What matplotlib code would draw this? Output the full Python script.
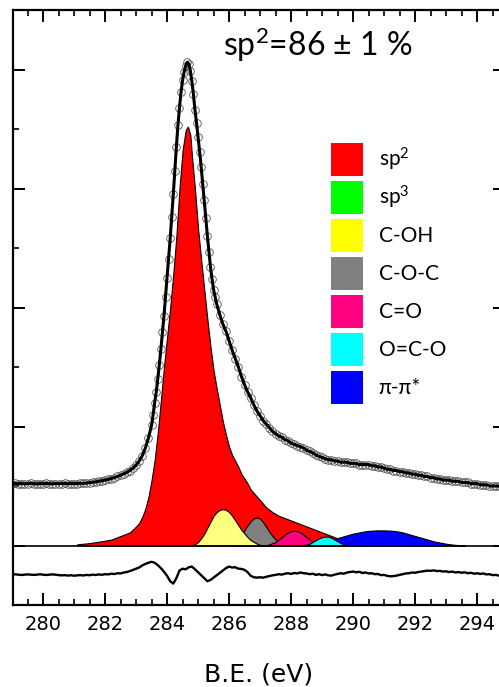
import numpy as np
import matplotlib
matplotlib.use('Agg')
import matplotlib.pyplot as plt
from matplotlib.patches import Patch
from matplotlib.ticker import MultipleLocator

# measured spectrum (offset above the components), three sampling segments
counts_left = [0.520, 0.522, 0.519, 0.521, 0.518, 0.520, 0.523, 0.520, 0.517, 0.521,
               0.519, 0.522, 0.520, 0.518, 0.521, 0.519, 0.520, 0.522, 0.519, 0.521,
               0.520, 0.521, 0.523, 0.522, 0.525, 0.528, 0.531, 0.535, 0.540, 0.545,
               0.550, 0.556, 0.563, 0.571, 0.580, 0.590, 0.602, 0.615, 0.630, 0.650,
               0.675, 0.710, 0.755, 0.820, 0.905, 1.010]          # 279.0 .. 283.5, step 0.1
counts_peak = [1.10, 1.20, 1.29, 1.40, 1.52, 1.65, 1.79, 1.93, 2.09,
               2.25, 2.41, 2.58, 2.76, 2.95, 3.15, 3.35, 3.53, 3.68, 3.81,
               3.91, 3.98, 4.03, 4.06, 4.05, 3.99, 3.90, 3.79, 3.66, 3.55,
               3.43, 3.31, 3.18, 3.04, 2.90, 2.75, 2.60, 2.47, 2.34, 2.24,
               2.15, 2.09, 2.03]                                   # 283.55 .. 285.6, step 0.05
counts_right = [1.94, 1.86, 1.80, 1.72, 1.64, 1.57, 1.50, 1.42, 1.35, 1.29,
                1.24, 1.18, 1.13, 1.09, 1.05, 1.02, 0.99, 0.96, 0.94, 0.92,
                0.91, 0.89, 0.88, 0.86, 0.85, 0.84, 0.83, 0.82, 0.80, 0.79,
                0.78, 0.76, 0.75, 0.74, 0.73, 0.72, 0.72, 0.71, 0.71, 0.70,
                0.70, 0.70, 0.69, 0.69, 0.69, 0.68, 0.68, 0.68, 0.68, 0.67,
                0.67, 0.66, 0.66, 0.65, 0.64, 0.64, 0.63, 0.63, 0.62, 0.62,
                0.61, 0.61, 0.60, 0.60, 0.59, 0.59, 0.58, 0.58, 0.57, 0.57,
                0.56, 0.56, 0.55, 0.55, 0.55, 0.54, 0.54, 0.54, 0.53, 0.53,
                0.53, 0.52, 0.52, 0.52, 0.51, 0.51, 0.51, 0.50, 0.50, 0.50,
                0.50, 0.49, 0.49]                                  # 285.7 .. 294.9, step 0.1

# fitted components
sp2_be = [281.1, 281.5, 282.0, 282.2, 282.5, 282.8, 283.0, 283.1, 283.2, 283.3, 283.4, 283.5,
          283.6, 283.7, 283.8, 283.9, 284.0, 284.1, 284.2, 284.3, 284.4, 284.5, 284.6, 284.67,
          284.75, 284.8, 284.9, 285.0, 285.1, 285.2, 285.3, 285.4, 285.5, 285.6, 285.7, 285.8,
          285.9, 286.0, 286.1, 286.2, 286.3, 286.4, 286.5, 286.6, 286.7, 286.8, 286.9, 287.0,
          287.2, 287.4, 287.6, 287.8, 288.0, 288.2, 288.4, 288.6, 288.8, 289.0, 289.2, 289.4,
          289.6, 289.8, 290.0, 290.2, 290.4]
sp2_int = [0.01, 0.02, 0.04, 0.05, 0.08, 0.11, 0.16, 0.19, 0.24, 0.31, 0.41, 0.55,
           0.72, 0.95, 1.22, 1.50, 1.75, 2.00, 2.28, 2.60, 3.00, 3.32, 3.49, 3.52,
           3.45, 3.28, 2.99, 2.66, 2.40, 2.15, 1.90, 1.67, 1.47, 1.32, 1.18, 1.04,
           0.93, 0.83, 0.76, 0.71, 0.66, 0.60, 0.56, 0.52, 0.47, 0.44, 0.41, 0.38,
           0.32, 0.28, 0.25, 0.23, 0.21, 0.19, 0.17, 0.15, 0.13, 0.11, 0.09, 0.07,
           0.05, 0.03, 0.02, 0.01, 0.0]

coh_be = [284.8, 284.9, 285.0, 285.1, 285.2, 285.3, 285.4, 285.5, 285.6, 285.7, 285.8, 285.9,
          286.0, 286.1, 286.2, 286.3, 286.4, 286.5, 286.6, 286.7, 286.8, 286.9, 287.0, 287.1]
coh_int = [0.0, 0.01, 0.03, 0.06, 0.10, 0.15, 0.20, 0.25, 0.28, 0.30, 0.305, 0.30,
           0.28, 0.25, 0.21, 0.17, 0.13, 0.10, 0.07, 0.045, 0.03, 0.015, 0.005, 0.0]

coc_be = [286.0, 286.1, 286.2, 286.3, 286.4, 286.5, 286.6, 286.7, 286.8, 286.9, 287.0, 287.1,
          287.2, 287.3, 287.4, 287.5, 287.6, 287.7, 287.8, 287.9]
coc_int = [0.0, 0.015, 0.035, 0.06, 0.09, 0.13, 0.17, 0.205, 0.228, 0.235, 0.225, 0.195,
           0.155, 0.115, 0.08, 0.05, 0.03, 0.015, 0.005, 0.0]

co_be = [287.2, 287.3, 287.5, 287.6, 287.7, 287.8, 287.9, 288.0, 288.1, 288.2, 288.3,
         288.4, 288.5, 288.6, 288.7, 288.8, 288.9, 289.0]
co_int = [0.0, 0.01, 0.03, 0.05, 0.07, 0.09, 0.11, 0.12, 0.125, 0.12, 0.11,
          0.09, 0.07, 0.05, 0.03, 0.02, 0.01, 0.0]

oco_be = [288.4, 288.5, 288.6, 288.7, 288.8, 288.9, 289.0, 289.1, 289.2, 289.3, 289.4,
          289.5, 289.6, 289.7, 289.8]
oco_int = [0.0, 0.005, 0.015, 0.03, 0.045, 0.06, 0.07, 0.075, 0.075, 0.065, 0.05,
           0.035, 0.02, 0.01, 0.0]

pi_be = [288.2, 288.4, 288.6, 288.8, 289.0, 289.2, 289.4, 289.6, 289.8, 290.0, 290.2, 290.4,
         290.6, 290.8, 291.0, 291.2, 291.4, 291.6, 291.8, 292.0, 292.2, 292.4, 292.6, 292.8,
         293.0, 293.2, 293.4, 293.6]
pi_int = [0.0, 0.005, 0.01, 0.02, 0.03, 0.04, 0.055, 0.07, 0.085, 0.10, 0.11, 0.12,
          0.125, 0.127, 0.127, 0.125, 0.12, 0.11, 0.095, 0.08, 0.065, 0.05, 0.035, 0.025,
          0.015, 0.008, 0.003, 0.0]

# residual, 279.0 .. 294.9 step 0.1
residual = [0.0, 0.003, 0.0, -0.003, 0.0, 0.002, 0.0, -0.002, 0.0, 0.003,
            0.0, -0.003, 0.0, 0.002, 0.0, -0.004, -0.006, -0.004, -0.008, -0.005,
            -0.009, -0.006, -0.004, -0.007, -0.002, -0.005, 0.0, -0.003, 0.002, -0.001,
            0.004, 0.002, 0.008, 0.005, 0.012, 0.010, 0.018, 0.022, 0.030, 0.040,
            0.050, 0.060, 0.078, 0.090, 0.100, 0.108, 0.100, 0.080, 0.055, 0.025,
            -0.010, -0.055, -0.075, -0.030, 0.035, 0.050, 0.045, 0.062, 0.068, 0.045,
            0.020, -0.005, -0.030, -0.055, -0.045, -0.025, -0.005, 0.015, 0.035, 0.055,
            0.068, 0.060, 0.062, 0.050, 0.048, 0.040, 0.020, -0.010, -0.022, -0.025,
            -0.022, -0.025, -0.018, -0.012, -0.006, -0.002, 0.004, 0.000, 0.008, 0.012,
            0.006, 0.014, 0.010, 0.018, 0.012, 0.010, 0.004, 0.008, -0.002, 0.004,
            -0.004, 0.002, -0.006, -0.008, 0.0, 0.006, 0.012, 0.008, 0.018, 0.022,
            0.026, 0.020, 0.024, 0.014, 0.018, 0.010, 0.012, 0.004, 0.006, -0.004,
            -0.002, -0.010, -0.014, -0.012, -0.008, -0.002, 0.004, 0.010, 0.012, 0.018,
            0.016, 0.022, 0.026, 0.030, 0.034, 0.032, 0.036, 0.030, 0.032, 0.026,
            0.028, 0.022, 0.026, 0.018, 0.022, 0.016, 0.020, 0.012, 0.016, 0.008,
            0.012, 0.006, 0.010, 0.002, 0.004, -0.004, -0.002, -0.008, -0.004, -0.006]

labels = ['sp$^{2}$', 'sp$^{3}$', 'C-OH', 'C-O-C', 'C=O', 'O=C-O', 'π-π*']
legend_colors = ['#ff0000', '#00ff00', '#ffff00', '#808080', '#ff0080', '#00ffff', '#0000ff']

resid_offset = -0.245

plt.rcParams['mathtext.fontset'] = 'custom'
plt.rcParams['mathtext.rm'] = 'Lato'
plt.rcParams['mathtext.it'] = 'Lato:italic'

be_left = 279.0 + 0.1 * np.arange(len(counts_left))
be_peak = 283.55 + 0.05 * np.arange(len(counts_peak))
be_right = 285.7 + 0.1 * np.arange(len(counts_right))
be = np.concatenate([be_left, be_peak, be_right])
counts = np.concatenate([counts_left, counts_peak, counts_right])
be_res = 279.0 + 0.1 * np.arange(len(residual))

fig = plt.figure(figsize=(4.99, 6.87), dpi=100)
ax = fig.add_axes([13 / 499, 82 / 687, 492 / 499, 595 / 687])

ekw = dict(edgecolor='black', linewidth=0.8)
ax.fill_between(sp2_be, 0, sp2_int, facecolor='#ff0000', zorder=2, **ekw)
ax.fill_between(coc_be, 0, coc_int, facecolor='#808080', zorder=3, **ekw)
ax.fill_between(coh_be, 0, coh_int, facecolor='#ffff80', zorder=4, **ekw)
ax.fill_between(co_be, 0, co_int, facecolor='#ff0080', zorder=5, **ekw)
ax.fill_between(pi_be, 0, pi_int, facecolor='#0000ff', zorder=6, **ekw)
ax.fill_between(oco_be, 0, oco_int, facecolor='#00ffff', zorder=7, **ekw)

ax.axhline(0, color='black', linewidth=1.2, zorder=8)

ax.plot(be, counts, 'o', mfc='none', mec='#555555', ms=5.5, mew=0.6, zorder=9)
ax.plot(be, counts, color='black', linewidth=2.2, zorder=10)

ax.plot(be_res, np.array(residual) + resid_offset, color='black', linewidth=1.7, zorder=10)

ax.set_xlim(279.03, 294.9)
ax.set_ylim(-0.5, 4.5)
ax.xaxis.set_major_locator(MultipleLocator(2))
ax.xaxis.set_minor_locator(MultipleLocator(0.5))
ax.yaxis.set_major_locator(MultipleLocator(1))
ax.yaxis.set_minor_locator(MultipleLocator(0.5))
ax.tick_params(which='both', direction='in', top=True, right=True, labelleft=False)
ax.tick_params(which='major', length=8.5, width=1.4, labelsize=14, pad=7.5)
ax.tick_params(which='minor', length=4.5, width=1.2)
for s in ax.spines.values():
    s.set_linewidth(1.6)

ax.set_xlabel('B.E. (eV)', fontsize=18, labelpad=20)

ax.text(0.62, 0.941, 'sp$^{2}$=86 ± 1 %', transform=ax.transAxes, ha='center', va='center',
        fontsize=23, family=['Lato', 'DejaVu Sans'])

handles = [Patch(facecolor=c, edgecolor='none') for c in legend_colors]
ax.legend(handles, labels, loc='upper left', bbox_to_anchor=(0.646, 0.776), frameon=False,
          prop={'family': ['Lato', 'DejaVu Sans'], 'size': 15},
          handlelength=1.55, handleheight=2.06, labelspacing=0.24, handletextpad=0.75,
          borderpad=0, borderaxespad=0)

fig.savefig('out.png', dpi=100)
